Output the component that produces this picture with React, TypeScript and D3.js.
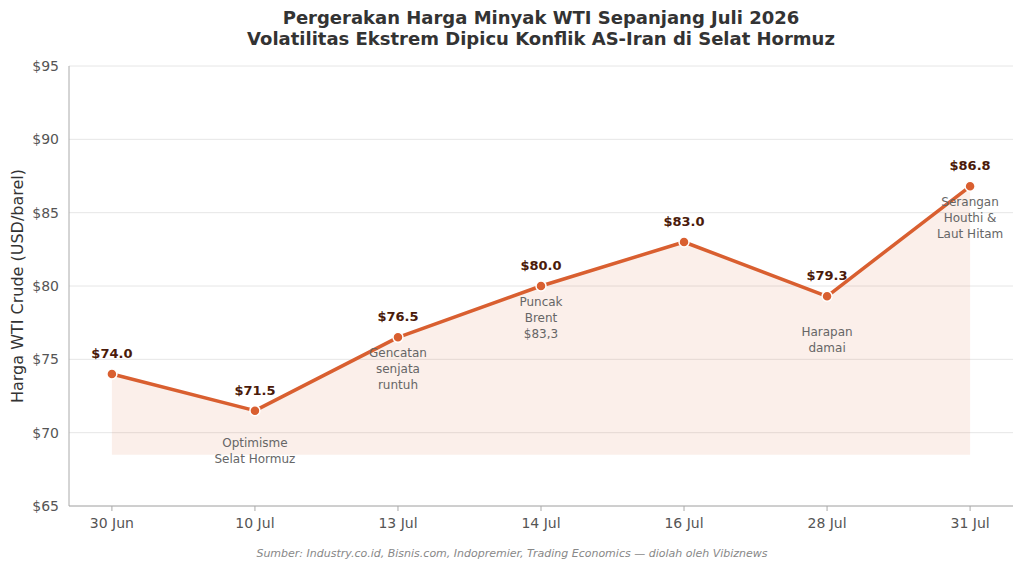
import React from "react";
import * as d3 from "d3";

const categories = ["30 Jun", "10 Jul", "13 Jul", "14 Jul", "16 Jul", "28 Jul", "31 Jul"];
const prices = [74.0, 71.5, 76.5, 80.0, 83.0, 79.3, 86.8];
const notes: string[][] = [[], ["Optimisme", "Selat Hormuz"], ["Gencatan", "senjata", "runtuh"], ["Puncak", "Brent", "$83,3"], [], ["Harapan", "damai"], ["Serangan", "Houthi &", "Laut Hitam"]];
const noteOffsets = [0, 36, 20, 20, 0, 40, 20];
const yTicks = [65, 70, 75, 80, 85, 90, 95];

export default function App() {
  const W = 1024, H = 570;
  const left = 69, right = 1013, top = 66, bottom = 506;
  const x = d3.scalePoint<string>().domain(categories).range([left, right]).padding(0.3);
  const y = d3.scaleLinear().domain([65, 95]).range([bottom, top]);
  const pts = categories.map((c, i) => [x(c)!, y(prices[i])] as [number, number]);
  const line = d3.line()(pts)!;
  const area = d3.area<[number, number]>().x(d => d[0]).y0(y(68.5)).y1(d => d[1])(pts)!;
  const font = "DejaVu Sans, sans-serif";
  return (
    <svg width={W} height={H} style={{ position: "absolute", left: 0, top: 0, fontFamily: font }}>
      <rect width={W} height={H} fill="#fff" />
      <text x={541} y={24} textAnchor="middle" fontSize={18} fontWeight="bold" fill="#333">Pergerakan Harga Minyak WTI Sepanjang Juli 2026</text>
      <text x={541} y={45} textAnchor="middle" fontSize={18} fontWeight="bold" fill="#333">Volatilitas Ekstrem Dipicu Konflik AS-Iran di Selat Hormuz</text>
      {yTicks.map(t => (
        <g key={t}>
          <line x1={left} x2={right} y1={y(t)} y2={y(t)} stroke="#e6e6e6" />
          <text x={left - 10} y={y(t) + 5} textAnchor="end" fontSize={14} fill="#555">${t}</text>
        </g>
      ))}
      <line x1={left} x2={left} y1={top} y2={bottom} stroke="#aaa" />
      <line x1={left} x2={right} y1={bottom} y2={bottom} stroke="#aaa" />
      {categories.map(c => (
        <g key={c}>
          <line x1={x(c)} x2={x(c)} y1={bottom} y2={bottom + 5} stroke="#aaa" />
          <text x={x(c)} y={bottom + 22} textAnchor="middle" fontSize={14} fill="#555">{c}</text>
        </g>
      ))}
      <text transform={`translate(23,286) rotate(-90)`} textAnchor="middle" fontSize={16} fill="#333">Harga WTI Crude (USD/barel)</text>
      <path d={area} fill="#d95f30" opacity={0.1} />
      <path d={line} fill="none" stroke="#d95f30" strokeWidth={3.5} strokeLinejoin="round" />
      {pts.map((p, i) => (
        <g key={i}>
          <circle cx={p[0]} cy={p[1]} r={5} fill="#d95f30" stroke="#fff" strokeWidth={1.5} />
          <text x={p[0]} y={p[1] - 16} textAnchor="middle" fontSize={13} fontWeight="bold" fill="#4a1a0a">${prices[i].toFixed(1)}</text>
          {notes[i].map((n, j) => (
            <text key={j} x={p[0]} y={p[1] + noteOffsets[i] + j * 16} textAnchor="middle" fontSize={12} fill="#666">{n}</text>
          ))}
        </g>
      ))}
      <text x={512} y={557} textAnchor="middle" fontSize={11} fontStyle="italic" fill="#888">Sumber: Industry.co.id, Bisnis.com, Indopremier, Trading Economics — diolah oleh Vibiznews</text>
    </svg>
  );
}
